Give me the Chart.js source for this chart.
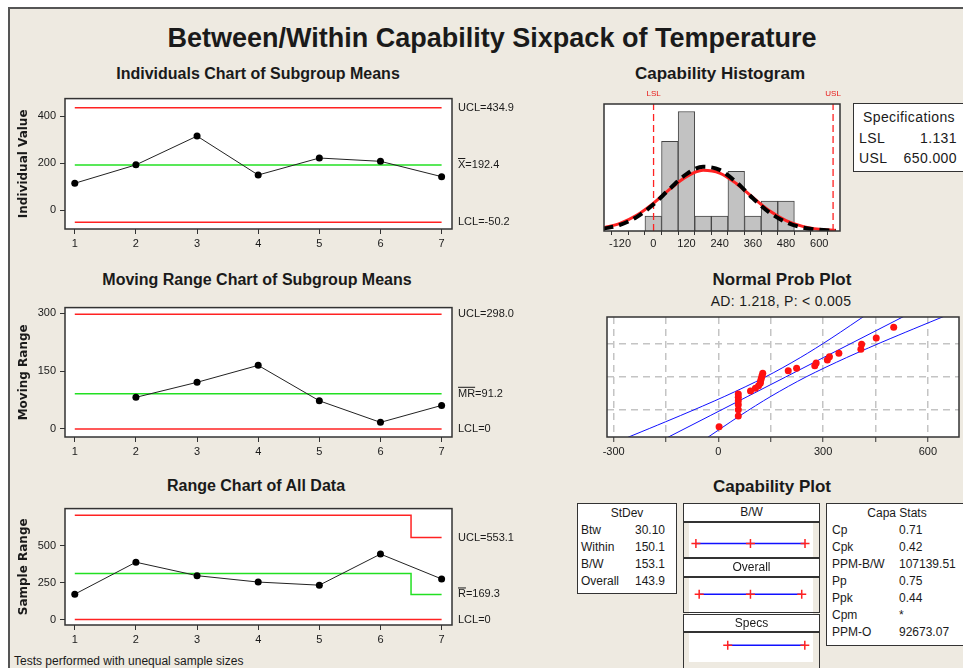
<!DOCTYPE html>
<html>
<head>
<meta charset="utf-8">
<title>Between/Within Capability Sixpack of Temperature</title>
<script src="https://cdn.jsdelivr.net/npm/chart.js@4.4.1/dist/chart.umd.min.js"></script>
<style>
html,body{margin:0;padding:0}
body{position:relative;width:963px;height:668px;overflow:hidden;background:#fff;font-family:"Liberation Sans",Arial,sans-serif;color:#1a1a1a}
#frame{position:absolute;left:8px;top:7px;width:980px;height:690px;background:#eeeae1;border-left:2px solid #555;border-top:2px solid #555}
canvas{position:absolute}
.title{position:absolute;white-space:nowrap;font-weight:bold;line-height:1;transform:translateX(-50%)}
.box{position:absolute;box-sizing:border-box;border:1.5px solid #333;background:#fff;z-index:2}
.tbl{font-size:12px;line-height:17px;padding-top:1px}
.tbl .hd{text-align:center}
.tbl span{display:inline-block}
.hdr{text-align:center;font-size:12px;line-height:16px}
.clear{background:transparent}
</style>
</head>
<body>
<div id="frame"></div>

<div class="title" style="left:492px;top:25px;font-size:27px">Between/Within Capability Sixpack of Temperature</div>
<div class="title" style="left:258px;top:66px;font-size:16px">Individuals Chart of Subgroup Means</div>
<div class="title" style="left:257px;top:272px;font-size:16px">Moving Range Chart of Subgroup Means</div>
<div class="title" style="left:256px;top:478px;font-size:16px">Range Chart of All Data</div>
<div class="title" style="left:720px;top:65px;font-size:17px">Capability Histogram</div>
<div class="title" style="left:782px;top:271px;font-size:17px">Normal Prob Plot</div>
<div class="title" style="left:781px;top:294px;font-size:14px;font-weight:normal;letter-spacing:0.3px">AD: 1.218, P: &lt; 0.005</div>
<div class="title" style="left:772px;top:478px;font-size:17px">Capability Plot</div>
<div style="position:absolute;left:14px;top:654px;font-size:12px;white-space:nowrap">Tests performed with unequal sample sizes</div>

<div class="box" id="specBox" style="left:853px;top:103px;width:120px;height:69px;font-size:14px;line-height:20.5px;padding-top:3px;letter-spacing:0.4px"></div>
<div class="box tbl" id="stdevBox" style="left:577px;top:503px;width:100px;height:91px"></div>
<div class="box tbl" id="capaBox" style="left:826px;top:503px;width:150px;height:143px"></div>

<script>
// subgroups on the x axis of the control charts
const subgroups = [1, 2, 3, 4, 5, 6, 7]

// individuals chart of subgroup means
const subgroupMeans = [115, 193, 315, 150, 222, 208, 143]
const iUCL = 434.9, iCL = 192.4, iLCL = -50.2
const iTicks = [0, 200, 400]

// moving range chart
const mrSubgroups = [2, 3, 4, 5, 6, 7]
const movingRanges = [82, 121, 165, 73, 17, 61]
const mrUCL = 298.0, mrCL = 91.2, mrLCL = 0
const mrTicks = [0, 150, 300]

// range chart of all data (limits change for the last subgroup)
const sampleRanges = [171, 387, 296, 253, 232, 442, 274]
const rUCL = [704, 704, 704, 704, 704, 704, 553.1]
const rCL = [311, 311, 311, 311, 311, 311, 169.3]
const rLCL = [0, 0, 0, 0, 0, 0, 0]
const rTicks = [0, 250, 500]

// capability histogram
const binCenters = [0, 60, 120, 180, 240, 300, 360, 420, 480]
const binCounts = [1, 6, 8, 1, 1, 4, 1, 2, 2]
const curveX = [-180, -120, -60, 0, 60, 120, 180, 240, 300, 360, 420, 480, 540, 600, 660]
const curveOverall = [0.15, 0.41, 0.93, 1.77, 2.83, 3.81, 4.30, 4.09, 3.27, 2.19, 1.24, 0.59, 0.23, 0.08, 0.02]
const curveBW = [0.21, 0.51, 1.05, 1.85, 2.80, 3.64, 4.06, 3.88, 3.18, 2.24, 1.35, 0.70, 0.31, 0.12, 0.04]
const LSL = 1.131, USL = 650
const histTicks = [-120, 0, 120, 240, 360, 480, 600]
const histMinorTicks = [-60, 60, 180, 300, 420, 540]

// normal probability plot
const probValues = [2, 57, 57, 57, 57, 57, 57, 92, 106, 115, 120, 121, 123, 125, 127, 200, 224, 276, 280, 312, 318, 345, 408, 410, 452, 502]
const probScores = [-1.934, -1.518, -1.268, -1.079, -0.923, -0.786, -0.662, -0.548, -0.441, -0.339, -0.240, -0.143, -0.047, 0.047, 0.143, 0.240, 0.339, 0.441, 0.548, 0.662, 0.786, 0.923, 1.079, 1.268, 1.518, 1.934]
const bandZ = [-2.5, -1.5, -0.75, 0, 0.75, 1.5, 2.5]
const fitLine = [-167.4, -23.5, 84.5, 192.4, 300.3, 408.3, 552.2]
const bandLow = [-287.2, -109.1, 18.4, 134.3, 234.2, 322.7, 432.4]
const bandHigh = [-47.6, 62.1, 150.6, 250.5, 366.4, 493.9, 672.0]
const probTicks = [-300, -150, 0, 150, 300, 450, 600]
const probGridZ = [-1.2816, 0, 1.2816]

// capability plot intervals
const intervalNames = ['B/W', 'Overall', 'Specs']
const intervalLow = [-266.9, -239.3, 1.131]
const intervalMid = [192.4, 192.4, null]
const intervalHigh = [651.7, 624.1, 650]

// text panels
const specRows = [['LSL', '1.131'], ['USL', '650.000']]
const stdevRows = [['Btw', '30.10'], ['Within', '150.1'], ['B/W', '153.1'], ['Overall', '143.9']]
const capaRows = [['Cp', '0.71'], ['Cpk', '0.42'], ['PPM-B/W', '107139.51'], ['Pp', '0.75'], ['Ppk', '0.44'], ['Cpm', '*'], ['PPM-O', '92673.07']]

const FONT = '"Liberation Sans", Arial, sans-serif'
const RED = '#ff2222'
const GREEN = '#22e022'
const BLUE = '#1010ff'

Chart.defaults.font.family = FONT
Chart.defaults.font.size = 11
Chart.defaults.color = '#1a1a1a'
Chart.defaults.animation = false
Chart.defaults.plugins.legend.display = false
Chart.defaults.plugins.tooltip.enabled = false

// white plot area with a dark frame
const plotBox = {
  id: 'plotBox',
  beforeDraw(chart) {
    const a = chart.chartArea, ctx = chart.ctx
    ctx.save()
    ctx.fillStyle = '#fff'
    ctx.fillRect(a.left, a.top, a.right - a.left, a.bottom - a.top)
    ctx.restore()
  },
  afterDraw(chart, args, opts) {
    if (opts.stroke === false) return
    const a = chart.chartArea, ctx = chart.ctx
    ctx.save()
    ctx.strokeStyle = '#333'
    ctx.lineWidth = 1.5
    ctx.strokeRect(a.left, a.top, a.right - a.left, a.bottom - a.top)
    ctx.restore()
  }
}

// UCL / centre / LCL texts to the right of the plot
const sideLabels = {
  id: 'sideLabels',
  afterDraw(chart, args, opts) {
    if (!opts.items) return
    const ctx = chart.ctx, y = chart.scales.y, x0 = chart.chartArea.right + 6
    ctx.save()
    ctx.font = '11px ' + FONT
    ctx.fillStyle = '#1a1a1a'
    ctx.textBaseline = 'middle'
    opts.items.forEach(it => {
      const py = y.getPixelForValue(it.v)
      ctx.fillText(it.text, x0, py)
      if (it.bar) {
        const w = ctx.measureText(it.bar).width
        ctx.fillRect(x0, py - 7, w, 1)
      }
    })
    ctx.restore()
  }
}

// small LSL / USL tags above the histogram
const specTags = {
  id: 'specTags',
  afterDraw(chart, args, opts) {
    if (!opts.items) return
    const ctx = chart.ctx, x = chart.scales.x
    ctx.save()
    ctx.font = '8px ' + FONT
    ctx.fillStyle = '#e81818'
    ctx.textAlign = 'center'
    ctx.textBaseline = 'middle'
    opts.items.forEach(it => ctx.fillText(it.text, x.getPixelForValue(it.v), chart.chartArea.top - 10))
    ctx.restore()
  }
}

Chart.register(plotBox, sideLabels, specTags)

function addCanvas(left, top, w, h) {
  const c = document.createElement('canvas')
  c.width = w
  c.height = h
  c.style.left = left + 'px'
  c.style.top = top + 'px'
  c.style.width = w + 'px'
  c.style.height = h + 'px'
  document.body.appendChild(c)
  return c
}

function pts(xs, ys) {
  return xs.map((x, i) => ({x: x, y: ys[i]}))
}

function flat(v) {
  return [{x: subgroups[0], y: v}, {x: subgroups[subgroups.length - 1], y: v}]
}

function limitSet(data, color, stepped) {
  return {type: 'line', data: data, borderColor: color, borderWidth: 1.5, pointRadius: 0, stepped: stepped || false}
}

function controlChart(canvas, c) {
  return new Chart(canvas, {
    type: 'line',
    data: {datasets: [
      {data: c.points, borderColor: '#222', borderWidth: 1, pointRadius: 3.5, pointBackgroundColor: '#000', pointBorderWidth: 0},
      limitSet(c.ucl, RED, c.stepped),
      limitSet(c.cl, GREEN, c.stepped),
      limitSet(c.lcl, RED, c.stepped)
    ]},
    options: {
      responsive: false,
      devicePixelRatio: 1,
      layout: {padding: {top: 5, right: 118, left: 0, bottom: 0}},
      plugins: {sideLabels: {items: c.labels}},
      scales: {
        x: {
          type: 'linear', min: 0.84, max: 7.17,
          afterBuildTicks: s => { s.ticks = subgroups.map(v => ({value: v})) },
          afterFit: s => { s.height = 29 },
          grid: {drawOnChartArea: false, tickLength: 5, tickColor: '#333'},
          border: {display: false},
          ticks: {padding: 3}
        },
        y: {
          min: c.min, max: c.max,
          afterBuildTicks: s => { s.ticks = c.ticks.map(v => ({value: v})) },
          afterFit: s => { s.width = 55 },
          grid: {drawOnChartArea: false, tickLength: 5, tickColor: '#333'},
          border: {display: false},
          ticks: {padding: 4},
          title: {display: true, text: c.title, font: {family: '"DejaVu Sans", sans-serif', weight: 'bold', size: 12}, padding: {top: 7, bottom: 0}}
        }
      }
    }
  })
}

// Individuals chart
controlChart(addCanvas(10, 88, 560, 170), {
  points: pts(subgroups, subgroupMeans),
  ucl: flat(iUCL), cl: flat(iCL), lcl: flat(iLCL),
  min: -79, max: 474, ticks: iTicks, title: 'Individual Value',
  labels: [{v: iUCL, text: 'UCL=' + iUCL}, {v: iCL, text: 'X=' + iCL, bar: 'X'}, {v: iLCL, text: 'LCL=' + iLCL}]
})

// Moving range chart
controlChart(addCanvas(10, 297, 560, 169), {
  points: pts(mrSubgroups, movingRanges),
  ucl: flat(mrUCL), cl: flat(mrCL), lcl: flat(mrLCL),
  min: -21, max: 315, ticks: mrTicks, title: 'Moving Range',
  labels: [{v: mrUCL, text: 'UCL=' + mrUCL.toFixed(1)}, {v: mrCL, text: 'MR=' + mrCL, bar: 'MR'}, {v: mrLCL, text: 'LCL=' + mrLCL}]
})

// Range chart
controlChart(addCanvas(10, 498, 560, 156), {
  points: pts(subgroups, sampleRanges),
  ucl: pts(subgroups, rUCL), cl: pts(subgroups, rCL), lcl: pts(subgroups, rLCL),
  stepped: 'middle',
  min: -37, max: 749, ticks: rTicks, title: 'Sample Range',
  labels: [{v: rUCL[6], text: 'UCL=' + rUCL[6]}, {v: rCL[6], text: 'R=' + rCL[6], bar: 'R'}, {v: rLCL[6], text: 'LCL=' + rLCL[6]}]
})

// Capability histogram
new Chart(addCanvas(596, 86, 256, 169), {
  type: 'bar',
  data: {datasets: [
    {type: 'line', data: pts(curveX, curveOverall), borderColor: '#000', borderWidth: 4, borderDash: [10, 6], pointRadius: 0, cubicInterpolationMode: 'monotone', order: 1},
    {type: 'line', data: pts(curveX, curveBW), borderColor: RED, borderWidth: 3, pointRadius: 0, cubicInterpolationMode: 'monotone', order: 2},
    {type: 'line', data: [{x: LSL, y: 0}, {x: LSL, y: 8.5}], borderColor: RED, borderWidth: 1.3, borderDash: [7, 4], pointRadius: 0, order: 3},
    {type: 'line', data: [{x: USL, y: 0}, {x: USL, y: 8.5}], borderColor: RED, borderWidth: 1.3, borderDash: [7, 4], pointRadius: 0, order: 3},
    {type: 'bar', data: pts(binCenters, binCounts), backgroundColor: '#c2c2c2', borderColor: '#454545', borderWidth: 1, barPercentage: 1, categoryPercentage: 1, order: 5}
  ]},
  options: {
    responsive: false,
    devicePixelRatio: 1,
    layout: {padding: {left: 8, top: 18, right: 12, bottom: 0}},
    plugins: {specTags: {items: [{v: LSL, text: 'LSL'}, {v: USL, text: 'USL'}]}},
    scales: {
      x: {
        type: 'linear', min: -178, max: 675, offset: false,
        afterBuildTicks: s => { s.ticks = histTicks.concat(histMinorTicks).sort((a, b) => a - b).map(v => ({value: v})) },
        afterFit: s => { s.height = 24 },
        grid: {drawOnChartArea: false, tickLength: 4, tickColor: '#333'},
        border: {display: false},
        ticks: {padding: 2, autoSkip: false, maxRotation: 0, callback: v => histTicks.includes(v) ? v : ''}
      },
      y: {display: false, min: 0, max: 8.5}
    }
  }
})

// Normal probability plot
new Chart(addCanvas(597, 310, 366, 153), {
  type: 'line',
  data: {datasets: [
    {data: pts(probValues, probScores), showLine: false, pointRadius: 3.5, pointBackgroundColor: '#ff1010', pointBorderWidth: 0},
    {data: pts(fitLine, bandZ), borderColor: BLUE, borderWidth: 1, pointRadius: 0},
    {data: pts(bandLow, bandZ), borderColor: BLUE, borderWidth: 1, pointRadius: 0, tension: 0.3},
    {data: pts(bandHigh, bandZ), borderColor: BLUE, borderWidth: 1, pointRadius: 0, tension: 0.3}
  ]},
  options: {
    responsive: false,
    devicePixelRatio: 1,
    layout: {padding: {left: 10, top: 7, right: 1, bottom: 0}},
    scales: {
      x: {
        type: 'linear', min: -319, max: 689,
        afterBuildTicks: s => { s.ticks = probTicks.map(v => ({value: v})) },
        afterFit: s => { s.height = 26 },
        grid: {color: '#c4c4c4', lineWidth: 1.5, tickLength: 5, tickColor: '#333', tickWidth: 1},
        border: {display: false, dash: [7, 5]},
        ticks: {padding: 3, autoSkip: false, maxRotation: 0, callback: v => v % 300 === 0 ? v : ''}
      },
      y: {
        min: -2.33, max: 2.33,
        afterBuildTicks: s => { s.ticks = probGridZ.map(v => ({value: v})) },
        afterFit: s => { s.width = 0 },
        grid: {color: '#c4c4c4', lineWidth: 1.5, drawTicks: false},
        border: {display: false, dash: [7, 5]},
        ticks: {display: false}
      }
    }
  }
})

// Capability plot: process intervals against the specs
const capRows = intervalNames.map((n, i) => i)
const markers = []
capRows.forEach(i => {
  markers.push({x: intervalLow[i], y: i}, {x: intervalHigh[i], y: i})
  if (intervalMid[i] !== null) markers.push({x: intervalMid[i], y: i})
})
new Chart(addCanvas(683, 503, 136, 165), {
  type: 'line',
  data: {datasets: [
    {data: markers, showLine: false, pointStyle: 'cross', pointRadius: 4.5, borderColor: RED, pointBorderWidth: 1.5}
  ].concat(capRows.map(i => ({
    data: [{x: intervalLow[i], y: i}, {x: intervalHigh[i], y: i}], borderColor: BLUE, borderWidth: 1.5, pointRadius: 0
  })))},
  options: {
    responsive: false,
    devicePixelRatio: 1,
    layout: {padding: 0},
    plugins: {plotBox: {stroke: false}},
    scales: {
      x: {type: 'linear', display: false, min: -325, max: 719},
      y: {display: false, min: -0.678, max: 2.33, reverse: true}
    }
  }
})

// section frames of the capability plot
const sections = [[503, 19, 'B/W'], [522, 36, ''], [558, 19, 'Overall'], [577, 36, ''], [614, 18, 'Specs'], [632, 40, '']]
sections.forEach(s => {
  const d = document.createElement('div')
  d.className = 'box hdr' + (s[2] ? '' : ' clear')
  d.style.cssText = 'left:683px;width:137px;top:' + s[0] + 'px;height:' + s[1] + 'px'
  d.textContent = s[2]
  document.body.appendChild(d)
})

// text panels
function fillRows(el, head, rows, labelW, pad) {
  let html = head ? '<div class="hd">' + head + '</div>' : ''
  rows.forEach(r => {
    html += '<div style="padding-left:' + pad + 'px"><span style="width:' + labelW + 'px">' + r[0] + '</span><span>' + r[1] + '</span></div>'
  })
  el.innerHTML = html
}
fillRows(document.getElementById('stdevBox'), 'StDev', stdevRows, 54, 3)
fillRows(document.getElementById('capaBox'), '<span style="margin-left:-8px">Capa Stats</span>', capaRows, 67, 5)

const spec = document.getElementById('specBox')
let sh = '<div style="padding-left:9px">Specifications</div>'
specRows.forEach(r => {
  sh += '<div style="padding-left:5px;width:98px;display:flex;justify-content:space-between"><span>' + r[0] + '</span><span>' + r[1] + '</span></div>'
})
spec.innerHTML = sh
</script>
</body>
</html>
